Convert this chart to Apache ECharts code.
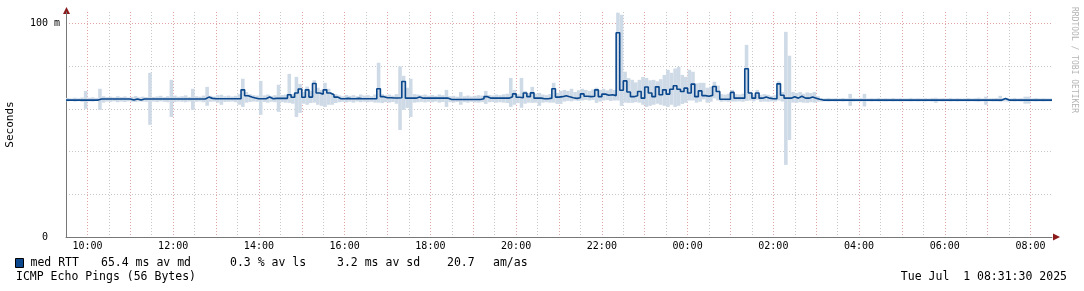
<!DOCTYPE html>
<html>
<head>
<meta charset="utf-8">
<script src="https://cdn.jsdelivr.net/npm/echarts@6/dist/echarts.min.js"></script>
<style>
  html, body { margin: 0; padding: 0; background: #fff; }
  #chart { width: 1084px; height: 291px; }
</style>
</head>
<body>
<div id="chart"></div>
<script>
// 5-minute slots starting 09:30, one row per hour
const slotStart = 9.5;
const slotStep = 1 / 12;

// median RTT (ms)
const med = [
  64.2, 64.2, 64.2, 64.2, 64.2, 64.2, 64.2, 64.2, 64.2, 64.7, 64.7, 64.7,
  64.7, 64.7, 64.7, 64.7, 64.7, 64.7, 64.2, 64.7, 64.2, 64.7, 64.7, 64.7,
  64.7, 64.7, 64.7, 64.7, 64.7, 64.7, 64.7, 64.7, 64.7, 64.7, 64.7, 64.7,
  64.7, 64.7, 64.7, 65.6, 65.0, 64.8, 64.8, 64.8, 64.8, 64.8, 64.8, 64.8,
  64.8, 69.0, 66.2, 65.6, 65.2, 64.8, 64.8, 64.8, 65.6, 64.8, 65.0, 65.0,
  65.0, 65.0, 66.7, 65.5, 67.5, 69.4, 65.5, 69.0, 65.6, 72.0, 67.5, 67.0,
  69.0, 67.5, 66.7, 65.6, 64.8, 64.8, 65.0, 64.8, 64.8, 65.0, 64.8, 64.8,
  64.8, 64.8, 64.8, 69.5, 65.8, 65.3, 65.3, 65.2, 65.2, 65.3, 72.9, 65.1,
  65.1, 65.1, 65.6, 65.1, 65.1, 65.1, 65.1, 65.1, 65.1, 65.1, 65.1, 64.5,
  64.5, 64.5, 64.5, 64.5, 64.5, 64.5, 64.5, 64.5, 64.8, 65.8, 65.1, 65.1,
  65.1, 65.1, 65.1, 65.1, 65.8, 67.1, 65.5, 65.3, 67.5, 65.8, 67.6, 65.1,
  65.1, 64.8, 64.8, 65.1, 69.5, 65.6, 65.8, 66.2, 65.8, 65.3, 65.0, 65.3,
  67.1, 66.0, 65.8, 66.0, 69.0, 65.8, 67.0, 66.5, 66.7, 66.3, 95.8, 68.8,
  73.2, 68.0, 65.8, 66.2, 68.2, 65.1, 70.3, 67.5, 65.8, 70.4, 66.7, 69.0,
  67.0, 69.3, 70.9, 69.3, 68.2, 69.8, 67.5, 71.7, 65.8, 68.5, 66.3, 66.0,
  66.4, 70.6, 68.2, 64.6, 64.6, 64.6, 67.8, 65.1, 65.1, 65.1, 78.9, 67.5,
  65.1, 67.5, 65.1, 65.6, 65.1, 64.8, 64.8, 71.8, 66.5, 65.1, 65.1, 65.8,
  65.1, 66.0, 65.1, 65.1, 65.6, 65.1, 64.6, 64.2, 64.2, 64.2, 64.2, 64.2,
  64.2, 64.2, 64.2, 64.2, 64.2, 64.2, 64.2, 64.2, 64.2, 64.2, 64.2, 64.2,
  64.2, 64.2, 64.2, 64.2, 64.2, 64.2, 64.2, 64.2, 64.2, 64.2, 64.2, 64.2,
  64.2, 64.2, 64.2, 64.2, 64.2, 64.2, 64.2, 64.2, 64.2, 64.2, 64.2, 64.2,
  64.2, 64.2, 64.2, 64.2, 64.2, 64.2, 64.2, 64.2, 64.2, 64.2, 64.9, 64.2,
  64.2, 64.2, 64.2, 64.2, 64.2, 64.2, 64.2, 64.2, 64.2, 64.2, 64.2, 64.2
];

// smoke: highest ping of each slot (ms)
const hi = [
  65.2, 65.0, 65.3, 65.1, 65.4, 68.5, 65.3, 65.5, 65.2, 69.5, 66.0, 65.6,
  65.8, 65.5, 66.0, 65.6, 65.9, 65.4, 65.7, 66.1, 65.5, 65.8, 65.6, 77.0,
  65.7, 65.9, 66.2, 65.6, 66.0, 73.7, 66.3, 65.8, 66.0, 66.4, 65.7, 69.5,
  66.0, 65.8, 66.3, 70.4, 66.2, 65.9, 66.5, 66.7, 66.0, 66.3, 65.9, 66.2,
  67.0, 74.2, 68.0, 67.0, 66.5, 66.3, 73.2, 66.4, 66.8, 66.2, 66.5, 71.4,
  66.6, 66.8, 76.5, 67.0, 75.1, 71.8, 68.0, 70.5, 68.5, 73.5, 70.0, 69.0,
  72.3, 69.5, 67.6, 67.0, 66.4, 66.0, 66.6, 66.2, 66.5, 66.0, 66.8, 66.3,
  66.5, 66.0, 66.8, 81.7, 67.0, 66.5, 66.8, 66.3, 67.0, 80.0, 75.6, 70.0,
  74.2, 67.0, 66.8, 66.5, 66.8, 66.3, 66.6, 66.2, 66.8, 66.5, 69.0, 66.0,
  66.2, 65.8, 68.0, 66.0, 66.3, 65.9, 66.2, 66.5, 66.3, 68.5, 66.6, 66.4,
  66.8, 66.5, 66.9, 67.2, 74.6, 69.0, 67.0, 74.6, 68.5, 67.5, 70.4, 67.2,
  67.6, 66.8, 66.5, 67.0, 72.3, 67.6, 68.5, 69.0, 68.5, 69.5, 68.0, 68.8,
  69.5, 69.0, 68.5, 69.2, 70.0, 69.0, 69.5, 68.8, 69.5, 69.0, 105.2, 104.2,
  77.5, 74.5, 73.7, 72.5, 73.7, 75.0, 74.6, 73.5, 73.7, 73.0, 74.0, 76.0,
  78.4, 77.0, 79.0, 79.8, 76.0, 75.1, 78.4, 77.5, 72.0, 72.3, 72.3, 70.0,
  70.5, 72.8, 71.0, 67.0, 66.8, 67.2, 69.0, 67.0, 66.8, 67.2, 90.1, 68.1,
  66.8, 69.0, 66.7, 67.0, 66.7, 66.2, 66.5, 73.0, 68.0, 96.2, 85.0, 68.0,
  67.5, 68.0, 67.2, 67.8, 67.5, 68.0, 66.0, 65.1, 65.0, 65.2, 65.0, 65.1,
  65.0, 65.2, 65.0, 67.1, 65.1, 65.0, 65.2, 67.1, 65.0, 65.1, 65.0, 65.2,
  65.0, 65.1, 65.0, 65.2, 65.0, 65.1, 65.0, 65.0, 65.2, 65.0, 65.1, 65.0,
  65.1, 65.0, 65.2, 65.3, 65.0, 65.1, 65.0, 65.2, 65.0, 65.1, 65.0, 65.0,
  65.2, 65.0, 65.1, 65.3, 65.0, 65.8, 65.0, 65.1, 65.2, 66.2, 65.0, 65.1,
  65.0, 65.2, 65.0, 65.1, 65.8, 65.8, 65.0, 65.2, 65.0, 65.1, 65.0, 65.0
];

// smoke: lowest ping of each slot (ms)
const lo = [
  63.6, 63.8, 63.5, 63.7, 63.4, 60.1, 63.6, 63.5, 63.8, 59.6, 63.0, 63.5,
  63.4, 63.6, 63.2, 63.5, 63.3, 63.6, 63.4, 63.3, 63.6, 63.5, 63.4, 52.6,
  63.5, 63.3, 63.6, 63.4, 63.2, 56.3, 63.3, 63.5, 63.4, 63.2, 63.5, 59.6,
  63.4, 63.5, 63.2, 61.5, 63.4, 63.5, 63.0, 62.0, 63.3, 63.4, 63.5, 63.2,
  62.0, 61.0, 63.0, 63.3, 63.5, 63.4, 57.3, 63.3, 63.0, 63.4, 63.2, 58.7,
  63.2, 63.0, 62.9, 62.5, 56.3, 58.2, 62.5, 62.0, 62.8, 63.0, 62.0, 61.5,
  61.0, 62.0, 62.0, 62.8, 63.2, 63.4, 63.1, 63.4, 63.0, 63.5, 63.2, 63.4,
  63.2, 63.4, 63.0, 63.0, 62.8, 63.2, 63.0, 63.3, 62.5, 50.2, 59.6, 60.5,
  56.3, 63.0, 63.2, 63.4, 63.1, 63.4, 63.2, 63.5, 63.0, 63.3, 61.0, 63.2,
  63.0, 63.3, 62.0, 63.2, 63.0, 63.4, 63.1, 63.0, 63.2, 62.4, 63.2, 63.3,
  63.0, 63.2, 63.0, 62.8, 61.0, 62.0, 62.8, 60.6, 62.5, 63.0, 62.9, 63.0,
  61.5, 63.0, 63.2, 63.0, 63.0, 62.4, 62.4, 63.5, 63.8, 63.6, 64.0, 63.8,
  64.0, 64.3, 64.0, 64.2, 62.9, 63.5, 64.0, 64.2, 63.8, 64.0, 64.0, 61.5,
  63.0, 62.9, 62.9, 63.2, 63.0, 62.0, 61.0, 61.5, 62.0, 62.5, 62.0, 61.5,
  61.0, 62.0, 61.0, 61.5, 62.4, 62.9, 64.0, 64.0, 63.0, 63.4, 64.5, 63.0,
  63.4, 65.0, 64.0, 63.4, 63.6, 63.4, 63.5, 63.5, 63.6, 63.4, 63.8, 64.0,
  63.6, 64.3, 63.4, 63.5, 63.4, 63.6, 63.5, 64.0, 63.5, 33.8, 45.5, 63.0,
  62.9, 63.2, 63.0, 62.9, 63.2, 63.0, 63.4, 63.5, 63.6, 63.5, 63.6, 63.5,
  63.6, 63.5, 63.6, 61.5, 63.5, 63.6, 63.5, 61.2, 63.6, 63.5, 63.6, 63.5,
  63.6, 63.5, 63.6, 63.5, 63.6, 63.5, 63.6, 63.6, 63.5, 63.6, 63.5, 63.6,
  63.5, 63.6, 63.5, 62.9, 63.6, 63.5, 63.6, 63.5, 63.6, 63.5, 63.6, 63.6,
  63.5, 63.6, 63.5, 63.4, 63.6, 62.0, 63.6, 63.5, 63.5, 63.4, 63.6, 63.5,
  63.6, 63.5, 63.6, 63.5, 62.5, 62.5, 63.6, 63.5, 63.6, 63.5, 63.6, 63.6
];

const legendStats = [
  { x: 101, text: "65.4 ms av md" },
  { x: 230, text: "0.3 % av ls" },
  { x: 337, text: "3.2 ms av sd" },
  { x: 447, text: "20.7" },
  { x: 493, text: "am/as" },
];

const MONO = '"DejaVu Sans Mono", monospace';
const GRID_GRAY = "#c8c8c8";
const GRID_RED = "#e4a4a4";
const MED_BLUE = "#0a478c";
const SMOKE = "#cfdae7";

const times = med.map((_, i) => slotStart + i * slotStep);
const medData = med.map((v, i) => [times[i], v]);
medData.push([slotStart + med.length * slotStep, med[med.length - 1]]);
const smokeData = times.map((t, i) => [t, lo[i], hi[i]]);

function hourLabel(v) {
  if (!Number.isInteger(v) || v % 2 !== 0) return "";
  const h = v % 24;
  return (h < 10 ? "0" : "") + h + ":00";
}

const chart = echarts.init(document.getElementById("chart"), null, { renderer: "canvas" });

chart.setOption({
  backgroundColor: "#fff",
  animation: false,
  grid: { left: 66, right: 32, top: 12, bottom: 54, outerBoundsMode: "none", containLabel: false },
  legend: {
    data: ["med RTT"],
    left: 15,
    top: 257,
    padding: 0,
    icon: "rect",
    itemWidth: 8,
    itemHeight: 9,
    itemStyle: { borderColor: "#000", borderWidth: 1 },
    textStyle: { fontFamily: MONO, fontSize: 11.5, color: "#000", padding: [0, 0, 0, 2] },
  },
  xAxis: {
    type: "value",
    min: 9.5,
    max: 32.5,
    interval: 0.5,
    axisLine: { lineStyle: { color: "#777" } },
    axisTick: { show: false },
    axisLabel: {
      formatter: hourLabel,
      fontFamily: MONO,
      fontSize: 10,
      color: "#000",
      margin: 4,
    },
    splitLine: {
      show: true,
      showMinLine: true,
      showMaxLine: false,
      lineStyle: { color: [GRID_GRAY, GRID_RED], type: [1, 2], width: 1 },
    },
  },
  yAxis: {
    type: "value",
    min: 0,
    max: 105.5,
    interval: 20,
    name: "Seconds",
    nameLocation: "middle",
    nameGap: 50,
    nameTextStyle: { fontFamily: MONO, fontSize: 11, color: "#000" },
    axisLine: { show: true, lineStyle: { color: "#777" } },
    axisTick: { show: false },
    axisLabel: {
      formatter: (v) => (v === 100 ? "100 m" : v === 0 ? "0  " : ""),
      fontFamily: MONO,
      fontSize: 10,
      color: "#000",
      margin: 6,
    },
    splitLine: {
      show: true,
      showMinLine: true,
      showMaxLine: false,
      lineStyle: { color: [GRID_GRAY, GRID_GRAY, GRID_GRAY, GRID_GRAY, GRID_GRAY, GRID_RED], type: [1, 2], width: 1 },
    },
  },
  series: [
    {
      name: "smoke",
      type: "custom",
      data: smokeData,
      encode: { x: 0, y: [1, 2] },
      clip: true,
      silent: true,
      renderItem: function (params, api) {
        const top = api.coord([api.value(0), api.value(2)]);
        const bot = api.coord([api.value(0) + slotStep, api.value(1)]);
        return {
          type: "rect",
          shape: { x: top[0], y: top[1], width: bot[0] - top[0], height: bot[1] - top[1] },
          style: { fill: SMOKE },
        };
      },
    },
    {
      name: "med RTT",
      type: "line",
      step: "end",
      data: medData,
      symbol: "none",
      color: MED_BLUE,
      lineStyle: { color: MED_BLUE, width: 1.6 },
      z: 3,
    },
  ],
  graphic: [
    { type: "polygon", shape: { points: [[63, 14], [66.5, 7], [70, 14]] }, style: { fill: "#8b1a1a" } },
    { type: "polygon", shape: { points: [[1053, 233.5], [1060, 237], [1053, 240.5]] }, style: { fill: "#8b1a1a" } },
    ...legendStats.map((s) => ({
      type: "text",
      x: s.x,
      y: 263,
      style: { text: s.text, font: "11.5px " + MONO, fill: "#000", textVerticalAlign: "middle" },
    })),
    {
      type: "text",
      x: 16,
      y: 277,
      style: { text: "ICMP Echo Pings (56 Bytes)", font: "11.5px " + MONO, fill: "#000", textVerticalAlign: "middle" },
    },
    {
      type: "text",
      x: 1067,
      y: 277,
      style: { text: "Tue Jul  1 08:31:30 2025", font: "11.5px " + MONO, fill: "#000", textAlign: "right", textVerticalAlign: "middle" },
    },
    {
      type: "text",
      x: 1074,
      y: 60,
      rotation: -Math.PI / 2,
      style: { text: "RRDTOOL / TOBI OETIKER", font: "8px " + MONO, fill: "#b4b4b4", textAlign: "center", textVerticalAlign: "middle" },
    },
  ],
});
</script>
</body>
</html>
